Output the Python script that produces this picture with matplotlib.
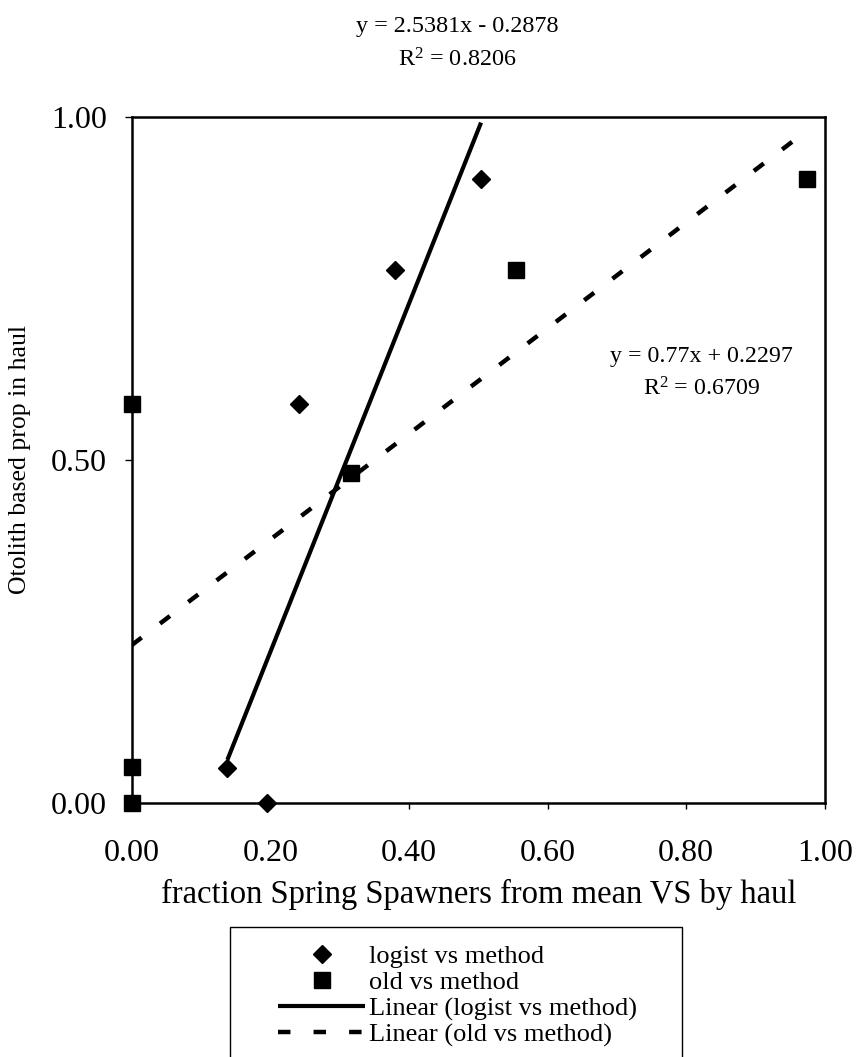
import numpy as np
import matplotlib
matplotlib.use('Agg')
import matplotlib.pyplot as plt
from matplotlib.patches import Rectangle

plt.rcParams['font.family'] = ['Liberation Serif', 'DejaVu Serif']
plt.rcParams['mathtext.fontset'] = 'custom'
plt.rcParams['mathtext.rm'] = 'Liberation Serif'
plt.rcParams['mathtext.default'] = 'regular'

# logist vs method
logist_x = [0.138, 0.195, 0.241, 0.380, 0.504]
logist_y = [0.050, 0.000, 0.581, 0.776, 0.909]
# old vs method
old_x = [0.000, 0.000, 0.000, 0.317, 0.555, 0.974]
old_y = [0.000, 0.052, 0.581, 0.481, 0.776, 0.909]

# trendline coefficients as printed on the chart
logist_fit = (2.5381, -0.2878, 0.8206)
old_fit = (0.77, 0.2297, 0.6709)

x_ticks = [0.0, 0.2, 0.4, 0.6, 0.8, 1.0]
y_ticks = [0.0, 0.5, 1.0]

fig = plt.figure(figsize=(8.61, 10.57), dpi=100)
ax = fig.add_axes([0.153, 0.2406, 0.805, 0.649])

ax.plot(logist_x, logist_y, linestyle='none', marker='D', markersize=9,
        color='black', clip_on=False, label='logist vs method', zorder=4)
ax.plot(old_x, old_y, linestyle='none', marker='s', markersize=11,
        color='black', clip_on=False, label='old vs method', zorder=4)

xs = np.array([min(logist_x), max(logist_x)])
ax.plot(xs, logist_fit[0] * xs + logist_fit[1], color='black', linewidth=3,
        solid_capstyle='butt', label='Linear (logist vs method)', zorder=3)
xs = np.array([min(old_x), max(old_x)])
ax.plot(xs, old_fit[0] * xs + old_fit[1], color='black', linewidth=3.2,
        dashes=(2.8, 5.2), dash_capstyle='butt',
        label='Linear (old vs method)', zorder=3)

ax.set_xlim(0, 1)
ax.set_ylim(0, 1)
ax.set_xticks(x_ticks)
ax.set_yticks(y_ticks)
ax.set_xticklabels(['%.2f' % v for v in x_ticks])
ax.set_yticklabels(['%.2f' % v for v in y_ticks])
ax.tick_params(axis='x', direction='out', length=4, width=1, pad=22, labelsize=23)
ax.tick_params(axis='y', direction='out', length=5, width=1, pad=13, labelsize=23)
for s in ax.spines.values():
    s.set_linewidth(1.8)

ax.set_xlabel('fraction Spring Spawners from mean VS by haul', fontsize=23.5, labelpad=8)
ax.set_ylabel('Otolith based prop in haul', fontsize=18.5, labelpad=14)

ax.text(0.469, 1.132, 'y = %.4fx - %.4f' % (logist_fit[0], -logist_fit[1]),
        transform=ax.transAxes, ha='center', va='center', fontsize=17.4)
ax.text(0.469, 1.083, 'R$^{2}$ = %.4f' % logist_fit[2],
        transform=ax.transAxes, ha='center', va='center', fontsize=17.4)
ax.text(0.822, 0.651, 'y = %.2fx + %.4f' % (old_fit[0], old_fit[1]),
        transform=ax.transAxes, ha='center', va='center', fontsize=17.2)
ax.text(0.822, 0.603, 'R$^{2}$ = %.4f' % old_fit[2],
        transform=ax.transAxes, ha='center', va='center', fontsize=17.2)

handles, labels = ax.get_legend_handles_labels()
fig.legend(handles, labels, loc='upper left', bbox_to_anchor=(0.308, 0.119),
           frameon=False, fontsize=19, borderpad=0, labelspacing=0.1,
           handlelength=3.3, handletextpad=0.15)
fig.patches.append(Rectangle((0.267, -0.02), 0.525, 0.143, transform=fig.transFigure,
                             fill=False, edgecolor='black', linewidth=1))

fig.savefig('out.png', dpi=100)
